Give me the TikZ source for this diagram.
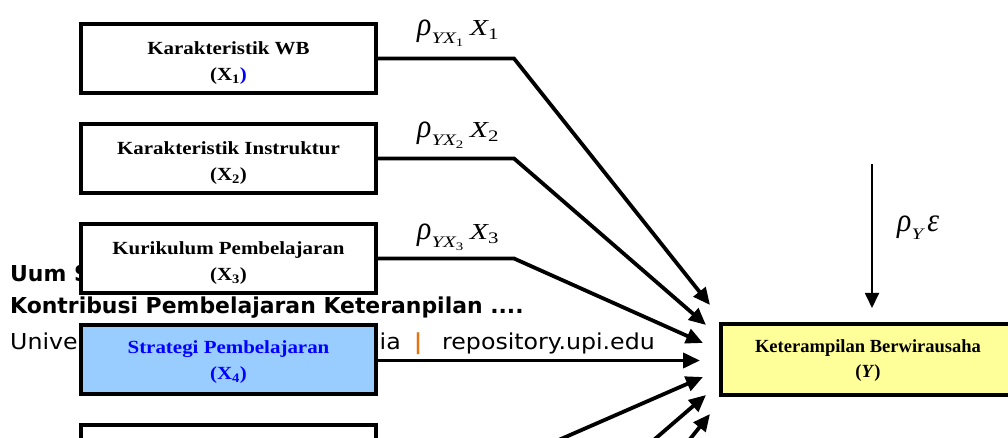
\documentclass[tikz,border=0pt]{standalone}
\usepackage{fontspec}
\usepackage{amsmath}
\usepackage{graphicx}
\usetikzlibrary{arrows.meta}
\setmainfont{Liberation Serif}
\newfontfamily\boxfont[FakeStretch=1.13]{Liberation Serif}
\newfontfamily\yfont{Liberation Serif}
\newfontfamily\varfont{Liberation Serif}
\newfontfamily\footreg[FakeStretch=1.08]{DejaVu Sans}
\newfontfamily\footbf{DejaVu Sans}
\definecolor{xblue}{HTML}{99CCFF}
\definecolor{xyellow}{HTML}{FFFF99}
\definecolor{xtext}{HTML}{0000FF}
\definecolor{uporange}{HTML}{E3720F}
% italic and upright letters of the path coefficients
\newcommand\itv[1]{\text{\varfont\itshape #1}}
\newcommand\upv[1]{\text{\varfont #1}}
% tall Greek letters, as the equation editor sets them
\newcommand\tallv[1]{\text{\scalebox{1}[1.45]{\varfont\itshape #1}}}
\newcommand\coef[1]{\scalebox{1.3}[1]{$#1$}}
\begin{document}
\begin{tikzpicture}[x=1bp,y=-1bp,
  box/.style={draw, line width=4bp, minimum width=295bp, minimum height=69bp,
    inner sep=0pt, fill=white},
  boxtext/.style={align=center, inner sep=0pt,
    font=\boxfont\bfseries\fontsize{18.6}{26}\selectfont},
  ytext/.style={align=center, inner sep=0pt,
    font=\yfont\bfseries\fontsize{18.6}{25}\selectfont},
  wire/.style={line width=3.8bp, line join=miter,
    -{Triangle[length=17bp,width=15bp]}},
  thinwire/.style={line width=1.8bp, -{Triangle[length=15bp,width=14bp]}},
  coeflabel/.style={anchor=base west, inner sep=0pt,
    font=\fontsize{23}{27}\selectfont},
  footline/.style={anchor=base west, inner sep=0pt},
  footbold/.style={font=\footbf\bfseries\fontsize{22}{26}\selectfont},
  footplain/.style={font=\footreg\fontsize{22}{26}\selectfont}]
\useasboundingbox (0,0) rectangle (1008,438);
\clip (0,0) rectangle (1008,438);

% page footer lying underneath the diagram
\node[footline, footbold] (uum) at (10,282) {Uum S};
\node[footline, footbold] (kon) at (10,314)
  {Kontribusi Pembelajaran Keteranpilan ....};
\node[footline, footplain] (uni) at (10,350) {Univer};
\node[footline, footplain, anchor=base east] (ia) at (401,350) {ia};
\node[footline, footbold, text=uporange] (bar) at (414,350) {|};
\node[footline, footplain] (repo) at (442,350) {repository.upi.edu};

% exogenous variables
\node[box] (x1) at (228.5,58.5) {};
\node[boxtext] (t1) at ([yshift=-4.5bp]x1.center)
  {Karakteristik WB\\(X\textsubscript{1}{\color{xtext})}};
\node[box] (x2) at (228.5,158.5) {};
\node[boxtext] (t2) at ([yshift=-4.5bp]x2.center)
  {Karakteristik Instruktur\\(X\textsubscript{2})};
\node[box] (x3) at (228.5,258.5) {};
\node[boxtext] (t3) at ([yshift=-4.5bp]x3.center)
  {Kurikulum Pembelajaran\\(X\textsubscript{3})};
\node[box, fill=xblue] (x4) at (228.5,359.5) {};
\node[boxtext, text=xtext] (t4) at ([yshift=-2.5bp]x4.center)
  {Strategi Pembelajaran\\(X\textsubscript{4})};
\node[box] (x5) at (228.5,459.5) {};

% endogenous variable
\node[box, fill=xyellow, minimum width=294bp, minimum height=71bp] (y) at (868,359.5) {};
\node[ytext] (ty) at ([yshift=-1bp]y.center)
  {Keterampilan Berwirausaha\\(\textit{Y})};

% bends and tips of the paths
\coordinate (k1) at (514,58.5);
\coordinate (k2) at (514,158.5);
\coordinate (k3) at (514,258.5);
\coordinate (k5) at (514,459.5);
\coordinate (k6) at (514,560.5);
\coordinate (k7) at (514,660.5);
\coordinate (p1) at (710,305);
\coordinate (p2) at (706,325);
\coordinate (p3) at (703,343);
\coordinate (p4) at (700,360.5);
\coordinate (p5) at (703,377);
\coordinate (p6) at (706,395);
\coordinate (p7) at (710,414);

\draw[wire] (x1.east) -- (k1) -- (p1);
\draw[wire] (x2.east) -- (k2) -- (p2);
\draw[wire] (x3.east) -- (k3) -- (p3);
\draw[wire] ([yshift=-1bp]x4.east) -- (p4);
\draw[wire] (x5.east) -- (k5) -- (p5);
\draw[wire] (k6) -- (p6);
\draw[wire] (k7) -- (p7);

% residual path
\coordinate (etop) at (872,164);
\draw[thinwire, shorten >=14bp] (etop) -- (etop |- y.north);

% path coefficients
\node[coeflabel] (l1) at (417,36)
  {\coef{\tallv{ρ}_{\itv{YX}_{\upv{1}}}\mkern3mu\itv{X}_{\upv{1}}}};
\node[coeflabel] (l2) at (417,138)
  {\coef{\tallv{ρ}_{\itv{YX}_{\upv{2}}}\mkern3mu\itv{X}_{\upv{2}}}};
\node[coeflabel] (l3) at (417,240)
  {\coef{\tallv{ρ}_{\itv{YX}_{\upv{3}}}\mkern3mu\itv{X}_{\upv{3}}}};
\node[coeflabel] (le) at (897,232)
  {\coef{\tallv{ρ}_{\itv{Y}}\mkern2mu\tallv{ε}}};
\end{tikzpicture}
\end{document}
